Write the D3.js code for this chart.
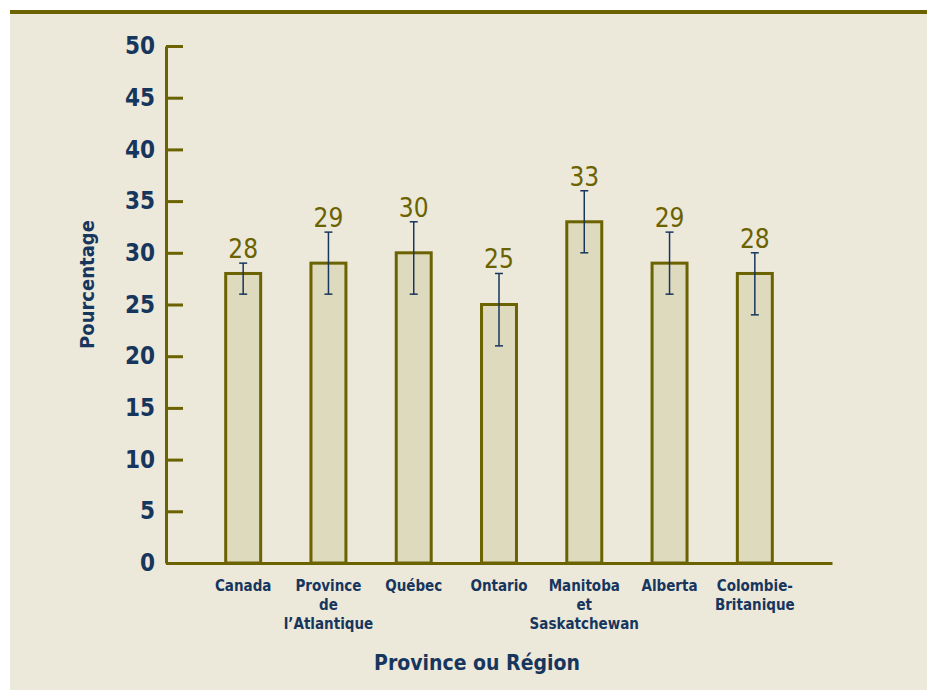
<!DOCTYPE html>
<html>
<head>
<meta charset="utf-8">
<script src="https://cdn.jsdelivr.net/npm/d3@7"></script>
<style>
  body { margin: 0; background: #ffffff; }
  svg { display: block; }
</style>
</head>
<body>
<div id="chart"></div>
<script>
// Data
const regions = ["Canada", "Province de l’Atlantique", "Québec", "Ontario", "Manitoba et Saskatchewan", "Alberta", "Colombie-Britanique"];
const regionLines = [["Canada"], ["Province", "de", "l’Atlantique"], ["Québec"], ["Ontario"], ["Manitoba", "et", "Saskatchewan"], ["Alberta"], ["Colombie-", "Britanique"]];
const percentages = [28, 29, 30, 25, 33, 29, 28];
const errLow = [26, 26, 26, 21, 30, 26, 24];
const errHigh = [29, 32, 33, 28, 36, 32, 30];
const yTicks = [0, 5, 10, 15, 20, 25, 30, 35, 40, 45, 50];

const olive = "#6b6200", navy = "#17365d", cream = "#ece8da", barFill = "#dedabd";
const font = "'Liberation Sans Narrow', 'DejaVu Sans Condensed', sans-serif";

const width = 927, height = 690;
const margin = { top: 46, left: 166, right: 95, bottom: 127 };

const svg = d3.select("#chart").append("svg")
    .attr("width", width)
    .attr("height", height);

// background panel + top rule
svg.append("rect").attr("x", 10).attr("y", 10).attr("width", width - 10).attr("height", height - 10).attr("fill", cream);
svg.append("line").attr("x1", 10).attr("x2", width).attr("y1", 12).attr("y2", 12)
    .attr("stroke", olive).attr("stroke-width", 4);

const rows = regions.map((r, i) => ({ region: r, lines: regionLines[i], value: percentages[i], lo: errLow[i], hi: errHigh[i] }));

const x = d3.scaleBand()
    .domain(regions)
    .range([margin.left, width - margin.right])
    .paddingInner(0.59)
    .paddingOuter(0.7);

const y = d3.scaleLinear()
    .domain([0, 50])
    .range([height - margin.bottom, margin.top]);

// Y axis
const yAxis = svg.append("g")
    .attr("transform", `translate(${margin.left},0)`)
    .call(d3.axisLeft(y).tickValues(yTicks).tickSizeInner(-17).tickSizeOuter(0).tickPadding(11));
yAxis.select(".domain").attr("stroke", olive).attr("stroke-width", 3);
yAxis.selectAll(".tick line").attr("stroke", olive).attr("stroke-width", 3);
yAxis.selectAll(".tick text")
    .attr("fill", navy)
    .style("font-family", font)
    .style("font-size", "24px")
    .style("font-weight", "bold");

// bars
svg.selectAll(".bar")
    .data(rows)
    .enter()
    .append("rect")
    .attr("class", "bar")
    .attr("x", d => x(d.region))
    .attr("y", d => y(d.value))
    .attr("width", x.bandwidth())
    .attr("height", d => y(0) - y(d.value))
    .attr("fill", barFill)
    .attr("stroke", olive)
    .attr("stroke-width", 3);

// X axis (line only, custom labels)
const xAxis = svg.append("g")
    .attr("transform", `translate(0,${y(0)})`)
    .call(d3.axisBottom(x).tickSize(0).tickFormat(""));
xAxis.select(".domain").attr("stroke", olive).attr("stroke-width", 3);

const catLabels = svg.selectAll(".cat")
    .data(rows)
    .enter()
    .append("text")
    .attr("class", "cat")
    .attr("text-anchor", "middle")
    .attr("fill", navy)
    .style("font-family", font)
    .style("font-size", "15px")
    .style("font-weight", "bold");
catLabels.selectAll("tspan")
    .data(d => d.lines.map(l => ({ l, cx: x(d.region) + x.bandwidth() / 2 })))
    .enter()
    .append("tspan")
    .attr("x", d => d.cx)
    .attr("y", (d, i) => y(0) + 28 + i * 19)
    .text(d => d.l);

// error bars
const err = svg.selectAll(".err")
    .data(rows)
    .enter()
    .append("g")
    .attr("class", "err")
    .attr("stroke", navy)
    .attr("stroke-width", 1.5);
err.append("line")
    .attr("x1", d => x(d.region) + x.bandwidth() / 2)
    .attr("x2", d => x(d.region) + x.bandwidth() / 2)
    .attr("y1", d => y(d.lo))
    .attr("y2", d => y(d.hi));
err.append("line")
    .attr("x1", d => x(d.region) + x.bandwidth() / 2 - 4)
    .attr("x2", d => x(d.region) + x.bandwidth() / 2 + 4)
    .attr("y1", d => y(d.hi))
    .attr("y2", d => y(d.hi));
err.append("line")
    .attr("x1", d => x(d.region) + x.bandwidth() / 2 - 4)
    .attr("x2", d => x(d.region) + x.bandwidth() / 2 + 4)
    .attr("y1", d => y(d.lo))
    .attr("y2", d => y(d.lo));

// value labels
svg.selectAll(".val")
    .data(rows)
    .enter()
    .append("text")
    .attr("class", "val")
    .attr("x", d => x(d.region) + x.bandwidth() / 2)
    .attr("y", d => y(d.hi) - 5)
    .attr("text-anchor", "middle")
    .attr("fill", olive)
    .style("font-family", font)
    .style("font-size", "26px")
    .text(d => d.value);

// axis titles
svg.append("text")
    .attr("transform", `translate(94,${(y(0) + y(50)) / 2 - 20}) rotate(-90)`)
    .attr("text-anchor", "middle")
    .attr("fill", navy)
    .style("font-family", font)
    .style("font-size", "20px")
    .style("font-weight", "bold")
    .text("Pourcentage");

svg.append("text")
    .attr("x", 477)
    .attr("y", 670)
    .attr("text-anchor", "middle")
    .attr("fill", navy)
    .style("font-family", font)
    .style("font-size", "21px")
    .style("font-weight", "bold")
    .text("Province ou Région");
</script>
</body>
</html>
